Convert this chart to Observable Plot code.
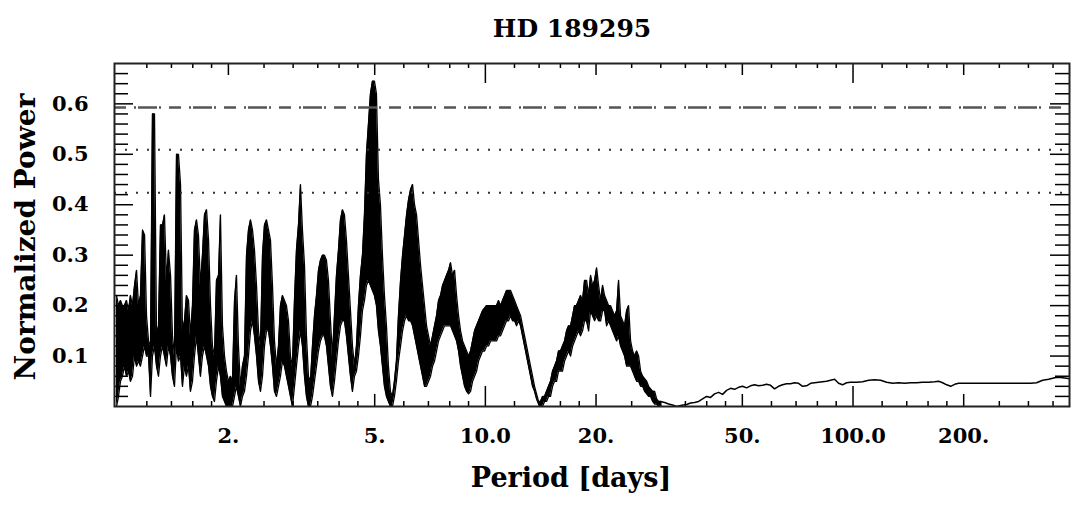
<!DOCTYPE html>
<html>
<head>
<meta charset="utf-8">
<script src="https://cdn.jsdelivr.net/npm/d3@7"></script>
<script src="https://cdn.jsdelivr.net/npm/@observablehq/plot@0.6"></script>
<style>
  html, body { margin: 0; padding: 0; background: #fff; }
  #chart svg { display: block; }
</style>
</head>
<body>
<div id="chart"></div>
<script>
// ---------------- text ----------------
const titleText = "HD 189295";
const xAxisLabel = "Period [days]";
const yAxisLabel = "Normalized Power";

// ---------------- periodogram, short-period part (upper / lower envelope) ----------------
const periods = [
  0.9924,1.005,1.0175,1.030,1.043,1.0565,1.070,1.083,1.097,1.111,
  1.125,1.139,1.153,1.168,1.183,1.1975,1.213,1.228,1.243,1.259,
  1.275,1.291,1.307,1.324,1.340,1.357,1.374,1.392,1.409,1.427,
  1.445,1.463,1.482,1.500,1.519,1.538,1.558,1.577,1.597,1.617,
  1.638,1.658,1.679,1.700,1.722,1.744,1.766,1.788,1.810,1.833,
  1.856,1.880,1.903,1.927,1.952,1.976,2.001,2.026,2.052,2.078,
  2.104,2.130,2.157,2.184,2.212,2.240,2.268,2.297,2.326,2.355,
  2.385,2.415,2.445,2.476,2.507,2.539,2.571,2.603,2.636,2.669,
  2.703,2.737,2.771,2.806,2.842,2.877,2.914,2.950,2.987,3.025,
  3.063,3.102,3.141,3.180,3.221,3.261,3.302,3.344,3.386,3.429,
  3.472,3.516,3.560,3.605,3.650,3.696,3.743,3.790,3.838,3.886,
  3.935,3.985,4.035,4.086,4.137,4.189,4.242,4.296,4.350,4.405,
  4.460,4.516,4.573,4.631,4.689,4.748,4.808,4.869,4.930,4.992,
  5.055,5.119,5.183,5.249,5.315,5.382,5.449,5.518,5.588,5.658,
  5.729,5.802,5.879,5.953,6.028,6.104,6.181,6.259,6.338,6.417,
  6.498,6.580,6.663,6.747,6.832,6.918,7.005,7.093,7.183,7.273,
  7.365,7.458,7.552,7.648,7.744,7.842,7.941,8.041,8.142,8.245,
  8.349,8.454,8.561,8.669,8.778,8.889,9.001,9.114,9.229,9.346,
  9.463,9.583,9.704,9.826,9.950,10.075,10.202,10.331,10.461,10.593,
  10.726,10.861,10.998,11.137,11.277,11.419,11.563,11.709,11.856,12.006,
  12.157,12.310,12.465,12.622,12.781,12.942,13.105,13.270,13.437,13.607,
  13.778,13.952,14.127,14.305,14.486,14.668,14.853,15.040,15.230,15.421,
  15.616,15.812,16.012,16.21,16.42,16.63,16.84,17.05,17.27,17.48,
  17.70,17.93,18.15,18.38,18.61,18.85,19.09,19.33,19.57,19.82,
  20.07,20.32,20.58,20.84,21.10,21.37,21.64,21.91,22.18,22.46,
  22.75,23.03,23.32,23.62,23.91,24.22,24.52,24.83,25.15,25.46,
  25.79,26.11,26.44,26.78,27.11,27.46,27.80,28.15,28.51,28.87,
  29.23,29.60,29.97
];
const powerHigh = [
  0.22,0.20,0.21,0.20,0.20,0.21,0.19,0.22,0.20,0.24,
  0.27,0.20,0.22,0.35,0.34,0.18,0.13,0.12,0.58,0.58,
  0.14,0.16,0.36,0.36,0.38,0.25,0.31,0.26,0.14,0.10,
  0.50,0.50,0.44,0.15,0.17,0.22,0.21,0.14,0.20,0.35,
  0.37,0.34,0.24,0.30,0.38,0.39,0.33,0.20,0.12,0.10,
  0.25,0.26,0.38,0.16,0.10,0.07,0.05,0.06,0.05,0.21,
  0.26,0.12,0.04,0.08,0.10,0.30,0.35,0.37,0.35,0.31,
  0.24,0.15,0.12,0.30,0.36,0.37,0.35,0.33,0.24,0.13,
  0.08,0.12,0.20,0.22,0.21,0.20,0.17,0.10,0.08,0.21,
  0.31,0.36,0.44,0.35,0.28,0.14,0.06,0.05,0.12,0.18,
  0.22,0.27,0.29,0.30,0.30,0.29,0.25,0.17,0.10,0.18,
  0.26,0.31,0.37,0.39,0.38,0.33,0.26,0.19,0.12,0.08,
  0.12,0.20,0.26,0.30,0.38,0.50,0.56,0.62,0.645,0.645,
  0.62,0.45,0.40,0.30,0.22,0.16,0.08,0.03,0.02,0.05,
  0.09,0.18,0.25,0.30,0.34,0.38,0.41,0.43,0.44,0.40,
  0.38,0.33,0.28,0.24,0.20,0.16,0.14,0.12,0.14,0.16,
  0.18,0.21,0.22,0.24,0.25,0.26,0.27,0.285,0.26,0.27,
  0.22,0.18,0.15,0.13,0.12,0.11,0.10,0.11,0.13,0.15,
  0.16,0.17,0.18,0.19,0.195,0.20,0.20,0.20,0.20,0.20,
  0.20,0.21,0.20,0.21,0.22,0.23,0.23,0.23,0.22,0.21,
  0.20,0.19,0.18,0.16,0.14,0.12,0.10,0.08,0.06,0.04,
  0.025,0.01,0.01,0.02,0.02,0.03,0.04,0.05,0.07,0.08,
  0.09,0.11,0.11,0.12,0.13,0.15,0.16,0.16,0.18,0.20,
  0.20,0.21,0.22,0.21,0.25,0.25,0.22,0.26,0.24,0.25,
  0.275,0.24,0.21,0.24,0.22,0.21,0.20,0.20,0.19,0.18,
  0.19,0.25,0.18,0.17,0.16,0.19,0.20,0.13,0.11,0.10,
  0.11,0.10,0.07,0.06,0.055,0.05,0.04,0.035,0.03,0.03,
  0.015,0.01,0.01
];
const powerLow = [
  0.00,0.02,0.05,0.06,0.08,0.06,0.07,0.05,0.06,0.10,
  0.08,0.09,0.08,0.10,0.12,0.10,0.10,0.02,0.10,0.12,
  0.08,0.06,0.10,0.12,0.10,0.08,0.12,0.10,0.06,0.04,
  0.12,0.09,0.10,0.04,0.08,0.06,0.08,0.03,0.05,0.10,
  0.14,0.10,0.06,0.10,0.12,0.10,0.08,0.04,0.02,0.01,
  0.05,0.08,0.06,0.02,0.01,0.00,0.00,0.00,0.00,0.02,
  0.04,0.02,0.00,0.02,0.03,0.06,0.10,0.15,0.17,0.14,
  0.10,0.05,0.03,0.06,0.12,0.15,0.15,0.12,0.08,0.03,
  0.02,0.04,0.06,0.09,0.08,0.06,0.04,0.02,0.00,0.04,
  0.08,0.12,0.15,0.12,0.06,0.02,0.00,0.00,0.02,0.05,
  0.08,0.11,0.13,0.14,0.14,0.12,0.08,0.04,0.02,0.05,
  0.09,0.13,0.16,0.17,0.17,0.14,0.10,0.06,0.03,0.06,
  0.07,0.10,0.14,0.19,0.21,0.24,0.25,0.24,0.23,0.22,
  0.20,0.15,0.12,0.08,0.04,0.02,0.01,0.00,0.00,0.02,
  0.05,0.09,0.12,0.15,0.17,0.18,0.17,0.17,0.16,0.14,
  0.12,0.10,0.08,0.06,0.04,0.04,0.05,0.06,0.08,0.09,
  0.11,0.13,0.14,0.15,0.16,0.16,0.16,0.16,0.15,0.14,
  0.13,0.11,0.08,0.06,0.04,0.03,0.025,0.03,0.05,0.06,
  0.07,0.09,0.10,0.11,0.11,0.12,0.12,0.13,0.13,0.13,
  0.13,0.14,0.14,0.15,0.16,0.17,0.17,0.18,0.17,0.17,
  0.16,0.17,0.16,0.14,0.12,0.10,0.08,0.06,0.04,0.03,
  0.015,0.005,0.0,0.0,0.01,0.01,0.02,0.02,0.04,0.05,
  0.05,0.07,0.07,0.07,0.09,0.10,0.11,0.10,0.12,0.13,
  0.14,0.15,0.14,0.15,0.17,0.17,0.15,0.19,0.18,0.17,
  0.18,0.17,0.17,0.19,0.19,0.16,0.17,0.16,0.15,0.14,
  0.13,0.14,0.12,0.11,0.10,0.08,0.08,0.08,0.07,0.06,
  0.05,0.05,0.04,0.04,0.03,0.025,0.02,0.02,0.01,0.005,
  0.005,0.0,0.0
];

// ---------------- periodogram, long-period part (single line) ----------------
const tailPeriods = [
  29.97,30.73,31.51,32.29,33.13,33.96,
  35.27,36.16,37.08,38.02,38.98,39.97,40.98,42.02,43.09,44.18,
  45.30,46.45,47.62,48.83,50.07,51.34,52.64,53.98,55.35,56.75,
  58.19,59.67,61.18,62.73,64.32,65.96,67.63,69.34,71.10,72.91,
  74.76,76.65,78.60,80.59,82.64,84.73,86.88,89.09,91.35,93.66,
  96.04,98.48,
  102.3,106.2,110.3,114.5,118.9,123.4,128.2,133.1,138.2,143.5,148.9,154.6,160.5,166.7,
  171.0,175.3,179.8,184.3,189.0,193.8,
  208.9,229.5,252.0,276.9,304.1,
  315.8,328.0,340.5,353.5,
  362.5,371.7,381.1,388.0
];
const tailPower = [
  0.01,0.008,0.005,0.003,0.0,0.002,
  0.004,0.007,0.008,0.01,0.015,0.02,0.018,0.025,0.028,0.024,
  0.032,0.036,0.034,0.038,0.04,0.037,0.041,0.043,0.041,0.042,
  0.044,0.042,0.035,0.040,0.043,0.045,0.045,0.047,0.046,0.040,
  0.041,0.046,0.047,0.048,0.049,0.050,0.052,0.054,0.046,0.043,
  0.047,0.048,
  0.048,0.049,0.052,0.053,0.052,0.048,0.046,0.047,0.046,0.047,0.047,0.048,0.048,0.049,
  0.050,0.047,0.043,0.040,0.044,0.046,
  0.046,0.046,0.046,0.046,0.046,
  0.047,0.052,0.054,0.057,
  0.058,0.057,0.056,0.055
];

// ---------------- significance levels ----------------
const dashDotLevels = [0.593];
const dottedLevels = [0.509, 0.424];

// ---------------- ticks ----------------
const xLabelTicks = [2, 5, 10, 20, 50, 100, 200];
const xTickLabels = ["2.", "5.", "10.0", "20.", "50.", "100.0", "200."];
const xDecadeTicks = [10, 100];
const xMidTicks = [2, 5, 20, 50, 200];
const xMinorTicks = [1.2, 1.4, 1.6, 1.8, 2.5, 3, 3.5, 4, 4.5, 6, 7, 8, 9,
  12, 14, 16, 18, 25, 30, 35, 40, 45, 60, 70, 80, 90, 120, 140, 160, 180, 250, 300, 350];
const yLabelTicks = [0.1, 0.2, 0.3, 0.4, 0.5, 0.6];
const yTickLabels = ["0.1", "0.2", "0.3", "0.4", "0.5", "0.6"];
const yMinorTicks = [0.02, 0.04, 0.06, 0.08, 0.12, 0.14, 0.16, 0.18, 0.22, 0.24, 0.26, 0.28,
  0.32, 0.34, 0.36, 0.38, 0.42, 0.44, 0.46, 0.48, 0.52, 0.54, 0.56, 0.58, 0.62, 0.64, 0.66];

// ---------------- layout ----------------
const W = 1072, H = 506;
const mL = 114, mR = 3, mT = 63, mB = 100;
const fw = W - mL - mR, fh = H - mT - mB;
const FONT = "'DejaVu Serif', 'Liberation Serif', serif";

const dense = periods.map((p, i) => ({p, hi: powerHigh[i], lo: powerLow[i]}));
const tail = tailPeriods.map((p, i) => ({p, v: tailPower[i]}));

const xTicks = (vals, len) => [
  Plot.ruleX(vals, {x: d => d, insetTop: fh - len, stroke: "black", strokeWidth: 1.5}),
  Plot.ruleX(vals, {x: d => d, insetBottom: fh - len, stroke: "black", strokeWidth: 1.5})
];
const yTicks = (vals, len) => [
  Plot.ruleY(vals, {y: d => d, insetRight: fw - len, stroke: "black", strokeWidth: 1.5}),
  Plot.ruleY(vals, {y: d => d, insetLeft: fw - len, stroke: "black", strokeWidth: 1.5})
];

const chart = Plot.plot({
  width: W,
  height: H,
  marginLeft: mL,
  marginRight: mR,
  marginTop: mT,
  marginBottom: mB,
  style: {fontFamily: FONT, fontWeight: "bold", color: "black", background: "white"},
  x: {type: "log", domain: [0.98, 388], axis: null},
  y: {domain: [0, 0.68], axis: null},
  marks: [
    Plot.areaY(dense, {x: "p", y1: "lo", y2: "hi", fill: "black", clip: true}),
    Plot.line(dense, {x: "p", y: "hi", stroke: "black", strokeWidth: 1.3, clip: true}),
    Plot.line(dense, {x: "p", y: "lo", stroke: "black", strokeWidth: 1.3, clip: true}),
    Plot.line(tail, {x: "p", y: "v", stroke: "black", strokeWidth: 1.5, clip: true}),
    Plot.ruleY(dashDotLevels, {y: d => d, stroke: "#555", strokeWidth: 2.5, strokeDasharray: "12,8,2,2,19,2,2,8"}),
    Plot.ruleY(dottedLevels, {y: d => d, stroke: "#333", strokeWidth: 2, strokeDasharray: "2,9"}),
    ...xTicks(xDecadeTicks, 20),
    ...xTicks(xMidTicks, 12),
    ...xTicks(xMinorTicks, 5),
    ...yTicks(yLabelTicks, 19),
    ...yTicks(yMinorTicks, 14),
    Plot.frame({stroke: "#222", strokeWidth: 2}),
    Plot.text(xLabelTicks, {x: d => d, text: (d, i) => xTickLabels[i], frameAnchor: "bottom",
      lineAnchor: "top", textAnchor: "middle", dy: 22, fontSize: 21, fontWeight: "bold"}),
    Plot.text(yLabelTicks, {y: d => d, text: (d, i) => yTickLabels[i], frameAnchor: "left",
      lineAnchor: "middle", textAnchor: "end", dx: -26, fontSize: 21, fontWeight: "bold"}),
    Plot.text([titleText], {text: d => d, frameAnchor: "top", textAnchor: "middle", dx: -20, dy: -44, fontSize: 25, fontWeight: "bold"}),
    Plot.text([xAxisLabel], {text: d => d, frameAnchor: "bottom", textAnchor: "middle", dx: -21, dy: 80, fontSize: 27, fontWeight: "bold"}),
    Plot.text([yAxisLabel], {text: d => d, frameAnchor: "left", textAnchor: "middle", dx: -88, dy: 2, rotate: -90, fontSize: 28, fontWeight: "bold"})
  ]
});
document.getElementById("chart").appendChild(chart);
</script>
</body>
</html>
